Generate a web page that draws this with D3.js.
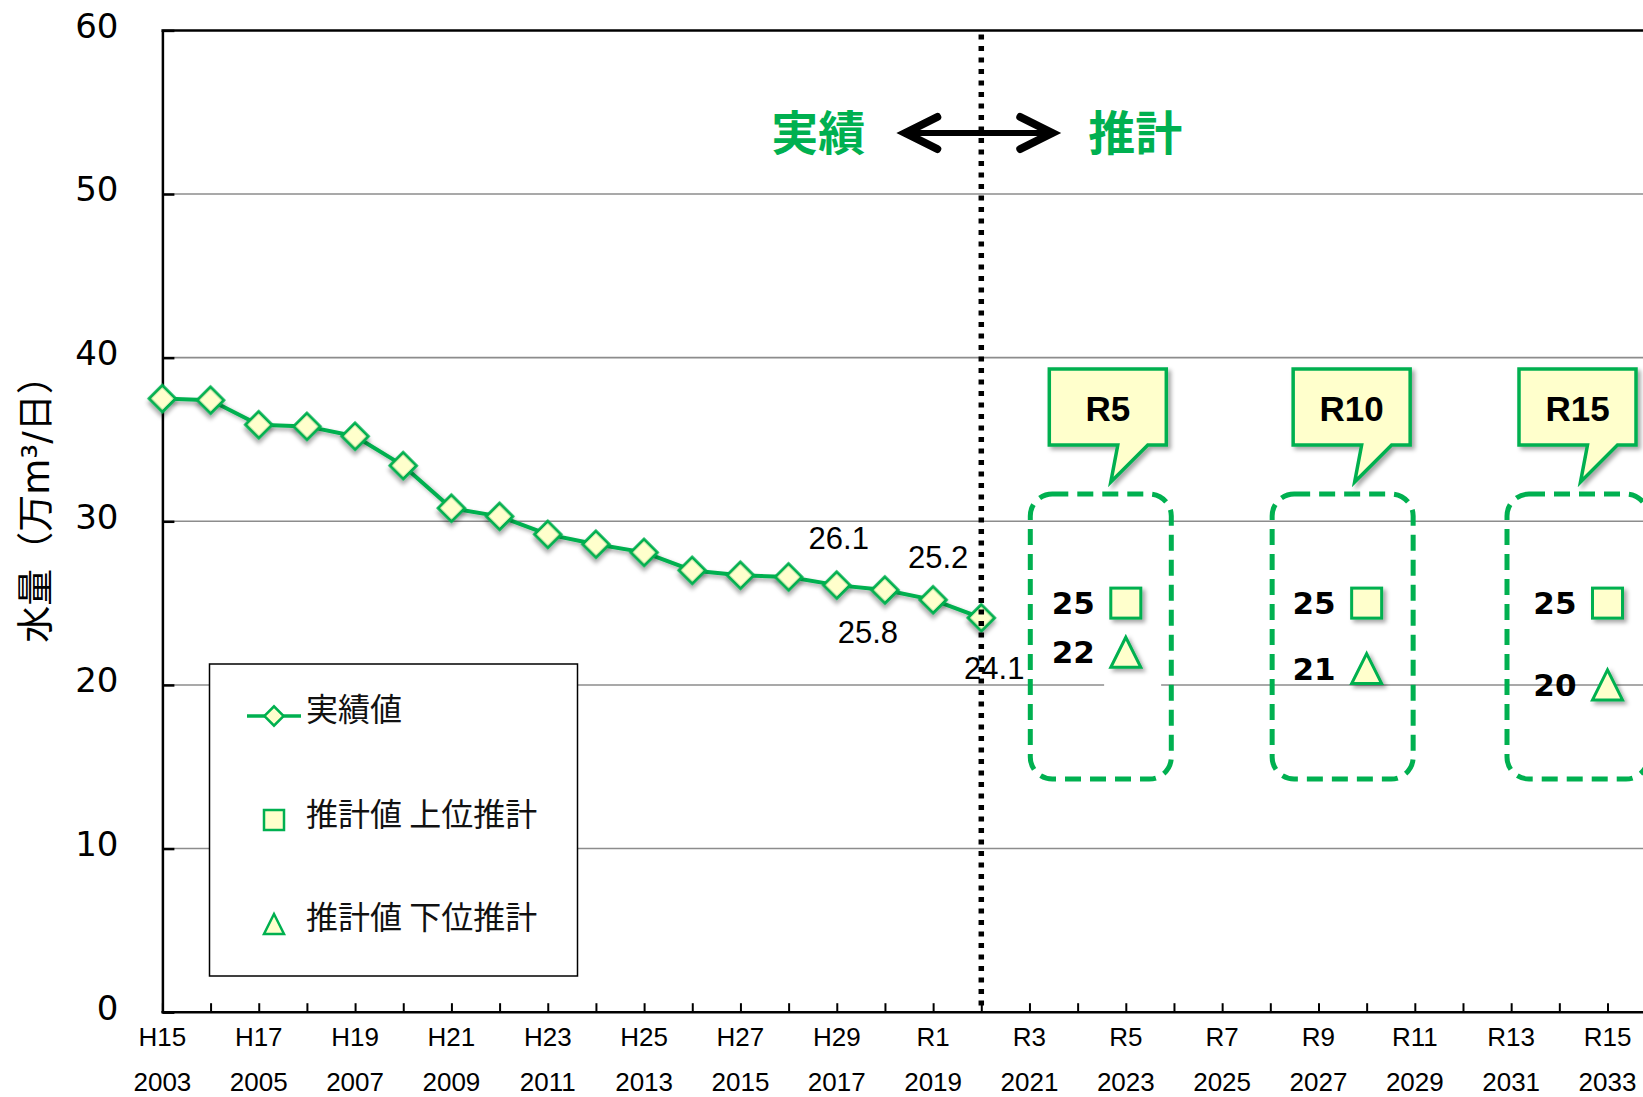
<!DOCTYPE html>
<html>
<head>
<meta charset="utf-8">
<script src="https://cdn.jsdelivr.net/npm/d3@7/dist/d3.min.js"></script>
<style>
  body { margin: 0; background: #fff; }
  svg { display: block; }
</style>
</head>
<body>
<div id="chart"></div>
<script>
// data
var years = [2003, 2004, 2005, 2006, 2007, 2008, 2009, 2010, 2011, 2012,
             2013, 2014, 2015, 2016, 2017, 2018, 2019, 2020];
var actual = [37.5, 37.4, 35.9, 35.8, 35.2, 33.4, 30.8, 30.3, 29.2, 28.6,
              28.1, 27.0, 26.7, 26.6, 26.1, 25.8, 25.2, 24.1];
var labelYears = [2017, 2018, 2019, 2020];

var forecastYears = [2023, 2028, 2033];
var forecastNames = ["R5", "R10", "R15"];
var upperValues = [25, 25, 25];
var lowerValues = [22, 21, 20];

var tickYears = [2003, 2005, 2007, 2009, 2011, 2013, 2015, 2017,
                 2019, 2021, 2023, 2025, 2027, 2029, 2031, 2033];
var eraLabels = ["H15", "H17", "H19", "H21", "H23", "H25", "H27", "H29",
                 "R1", "R3", "R5", "R7", "R9", "R11", "R13", "R15"];
var yTicks = [0, 10, 20, 30, 40, 50, 60];

var legendNames = ["実績値", "推計値 上位推計", "推計値 下位推計"];

var W = 1643, H = 1097;
var green = "#00B050", cream = "#FFFFCC";
var cjk = "'Noto Sans CJK JP', 'Noto Sans', sans-serif";

var svg = d3.select('#chart')
    .append('svg')
    .attr('width', W)
    .attr('height', H);

var defs = svg.append('defs');
var shadow = defs.append('filter')
    .attr('id', 'shadow')
    .attr('x', '-50%').attr('y', '-50%')
    .attr('width', '200%').attr('height', '200%');
shadow.append('feDropShadow')
    .attr('dx', 3).attr('dy', 3)
    .attr('stdDeviation', 2)
    .attr('flood-color', '#000')
    .attr('flood-opacity', 0.35);

var x = d3.scaleLinear()
    .domain([2003, 2033])
    .range([162.4, 1607.5]);

var y = d3.scaleLinear()
    .domain([0, 60])
    .range([1012.2, 30.4]);

// gridlines
svg.append('g')
    .selectAll('line')
    .data(yTicks.filter(function(d) { return d > 0 && d < 60; }))
    .enter()
    .append('line')
    .attr('x1', x(2003)).attr('x2', W)
    .attr('y1', function(d) { return y(d); })
    .attr('y2', function(d) { return y(d); })
    .attr('stroke', '#8c8c8c')
    .attr('stroke-width', 1.6);

// small white gap on the 20 line behind the R5 label box
svg.append('rect')
    .attr('x', x(2022.55)).attr('y', y(20) - 2)
    .attr('width', 57).attr('height', 4)
    .attr('fill', '#fff');

// top border
svg.append('line')
    .attr('x1', x(2003) - 1).attr('x2', W)
    .attr('y1', y(60)).attr('y2', y(60))
    .attr('stroke', '#000').attr('stroke-width', 2.5);

// y axis
var y_axis = d3.axisLeft(y)
    .tickValues(yTicks)
    .tickSizeInner(-12)
    .tickSizeOuter(0)
    .tickPadding(44);

var yg = svg.append('g')
    .attr('class', 'y axis')
    .attr('transform', 'translate(' + x(2003) + ',0)')
    .call(y_axis);
yg.select('.domain').attr('stroke', '#000').attr('stroke-width', 2.5);
yg.selectAll('.tick line').attr('stroke', '#000').attr('stroke-width', 2.5);
yg.selectAll('.tick text')
    .attr('dy', '0.2em')
    .style('font-family', "'DejaVu Sans', sans-serif")
    .style('font-size', '34px')
    .attr('fill', '#000');

// x axis
var x_axis = d3.axisBottom(x)
    .tickValues(d3.range(2003, 2034))
    .tickSizeInner(-9)
    .tickSizeOuter(0)
    .tickFormat('');

var xg = svg.append('g')
    .attr('class', 'x axis')
    .attr('transform', 'translate(0,' + y(0) + ')')
    .call(x_axis);
xg.select('.domain').remove();
xg.selectAll('.tick line').attr('stroke', '#000').attr('stroke-width', 2);
xg.append('line')
    .attr('x1', x(2003) - 1).attr('x2', W)
    .attr('stroke', '#000').attr('stroke-width', 2.5);

var xLab = svg.append('g')
    .style('font-family', "'Liberation Sans', Arial, sans-serif")
    .style('font-size', '26px')
    .attr('text-anchor', 'middle')
    .attr('fill', '#000');

xLab.selectAll('.era')
    .data(tickYears)
    .enter()
    .append('text')
    .attr('class', 'era')
    .attr('x', function(d) { return x(d); })
    .attr('y', 1037)
    .attr('dominant-baseline', 'central')
    .text(function(d, i) { return eraLabels[i]; });

xLab.selectAll('.yr')
    .data(tickYears)
    .enter()
    .append('text')
    .attr('class', 'yr')
    .attr('x', function(d) { return x(d); })
    .attr('y', 1082)
    .attr('dominant-baseline', 'central')
    .text(function(d) { return d; });

// y axis title
svg.append('text')
    .attr('transform', 'translate(36,500) rotate(-90)')
    .attr('text-anchor', 'middle')
    .attr('dominant-baseline', 'central')
    .style('font-family', "'DejaVu Sans', " + cjk)
    .style('font-size', '37px')
    .attr('fill', '#000')
    .text('水量（万m³/日）');

// actual line
var line = d3.line()
    .x(function(d, i) { return x(years[i]); })
    .y(function(d) { return y(d); });

svg.append('path')
    .datum(actual)
    .attr('d', line)
    .attr('fill', 'none')
    .attr('stroke', green)
    .attr('stroke-width', 4)
    .attr('stroke-linejoin', 'round')
    .attr('filter', 'url(#shadow)');

var diamond = d3.symbol().type(d3.symbolSquare).size(350);

svg.append('g')
    .selectAll('path')
    .data(actual)
    .enter()
    .append('path')
    .attr('d', diamond)
    .attr('transform', function(d, i) {
        return 'translate(' + x(years[i]) + ',' + y(d) + ') rotate(45)';
    })
    .attr('fill', cream)
    .attr('stroke', green)
    .attr('stroke-width', 3)
    .attr('filter', 'url(#shadow)');

// value labels on the last points
var labelShift = { 2017: [2, -47], 2018: [-17, 42], 2019: [5, -42], 2020: [13, 51] };

svg.append('g')
    .selectAll('text')
    .data(labelYears)
    .enter()
    .append('text')
    .attr('x', function(d) { return x(d) + labelShift[d][0]; })
    .attr('y', function(d) { return y(actual[years.indexOf(d)]) + labelShift[d][1]; })
    .attr('text-anchor', 'middle')
    .attr('dominant-baseline', 'central')
    .style('font-family', "'Liberation Sans', Arial, sans-serif")
    .style('font-size', '31px')
    .attr('fill', '#000')
    .text(function(d) { return actual[years.indexOf(d)].toFixed(1); });

// divider between actual and forecast
svg.append('line')
    .attr('x1', x(2020)).attr('x2', x(2020))
    .attr('y1', y(60) + 4).attr('y2', y(0))
    .attr('stroke', '#000')
    .attr('stroke-width', 5.5)
    .attr('stroke-dasharray', '5,6.5');

// heading and arrow
svg.append('text')
    .attr('x', x(2020) - 163).attr('y', 129)
    .attr('text-anchor', 'middle')
    .attr('dominant-baseline', 'central')
    .style('font-family', cjk)
    .style('font-weight', 700)
    .style('font-size', '47px')
    .attr('fill', green)
    .text('実績');

svg.append('text')
    .attr('x', x(2020) + 154).attr('y', 129)
    .attr('text-anchor', 'middle')
    .attr('dominant-baseline', 'central')
    .style('font-family', cjk)
    .style('font-weight', 700)
    .style('font-size', '47px')
    .attr('fill', green)
    .text('推計');

var ax0 = x(2020) - 76, ax1 = x(2020) + 71, ay = 133;
svg.append('line')
    .attr('x1', ax0 + 4).attr('x2', ax1 - 4)
    .attr('y1', ay).attr('y2', ay)
    .attr('stroke', '#000').attr('stroke-width', 6);
svg.append('path')
    .attr('d', 'M' + (ax0 + 32) + ',' + (ay - 16) + 'L' + ax0 + ',' + ay + 'L' + (ax0 + 32) + ',' + (ay + 16) +
               'M' + (ax1 - 32) + ',' + (ay - 16) + 'L' + ax1 + ',' + ay + 'L' + (ax1 - 32) + ',' + (ay + 16))
    .attr('fill', 'none')
    .attr('stroke', '#000')
    .attr('stroke-width', 8)
    .attr('stroke-linecap', 'round')
    .attr('stroke-linejoin', 'miter');

// forecast groups
var boxShift = [-25, -24, -30];
var bubbleShift = [-18, -15, -30];

var groups = svg.append('g')
    .selectAll('g')
    .data(forecastYears)
    .enter()
    .append('g');

groups.append('rect')
    .attr('x', function(d, i) { return x(d) + boxShift[i] - 70.5; })
    .attr('y', y(31.67))
    .attr('width', 141)
    .attr('height', y(14.25) - y(31.67))
    .attr('rx', 22).attr('ry', 22)
    .attr('fill', 'none')
    .attr('stroke', green)
    .attr('stroke-width', 5)
    .attr('stroke-dasharray', '16,9');

groups.append('path')
    .attr('d', function(d, i) {
        var c = x(d) + bubbleShift[i];
        var t = y(39.31), b = y(34.66), tip = y(32.4);
        return 'M' + (c - 58.5) + ',' + t +
               'L' + (c + 58.5) + ',' + t +
               'L' + (c + 58.5) + ',' + b +
               'L' + (c + 40) + ',' + b +
               'L' + (c + 3) + ',' + tip +
               'L' + (c + 10) + ',' + b +
               'L' + (c - 58.5) + ',' + b + 'Z';
    })
    .attr('fill', cream)
    .attr('stroke', green)
    .attr('stroke-width', 3.5)
    .attr('stroke-linejoin', 'miter')
    .attr('filter', 'url(#shadow)');

groups.append('text')
    .attr('x', function(d, i) { return x(d) + bubbleShift[i]; })
    .attr('y', (y(39.31) + y(34.66)) / 2 + 1)
    .attr('text-anchor', 'middle')
    .attr('dominant-baseline', 'central')
    .style('font-family', "'Liberation Sans', Arial, sans-serif")
    .style('font-weight', 700)
    .style('font-size', '35px')
    .attr('fill', '#000')
    .text(function(d, i) { return forecastNames[i]; });

// upper (square) and lower (triangle) forecast markers
groups.append('rect')
    .attr('x', function(d) { return x(d) - 15; })
    .attr('y', function(d, i) { return y(upperValues[i]) - 15; })
    .attr('width', 30).attr('height', 30)
    .attr('fill', cream)
    .attr('stroke', green)
    .attr('stroke-width', 3)
    .attr('filter', 'url(#shadow)');

groups.append('path')
    .attr('d', 'M0,-15L15,15L-15,15Z')
    .attr('transform', function(d, i) {
        return 'translate(' + x(d) + ',' + y(lowerValues[i]) + ')';
    })
    .attr('fill', cream)
    .attr('stroke', green)
    .attr('stroke-width', 3)
    .attr('stroke-linejoin', 'miter')
    .attr('filter', 'url(#shadow)');

groups.append('text')
    .attr('x', function(d) { return x(d) - 31; })
    .attr('y', function(d, i) { return y(upperValues[i]); })
    .attr('text-anchor', 'end')
    .attr('dominant-baseline', 'central')
    .style('font-family', "'DejaVu Sans', sans-serif")
    .style('font-weight', 700)
    .style('font-size', '31px')
    .attr('fill', '#000')
    .text(function(d, i) { return upperValues[i]; });

groups.append('text')
    .attr('x', function(d) { return x(d) - 31; })
    .attr('y', function(d, i) { return y(lowerValues[i]); })
    .attr('text-anchor', 'end')
    .attr('dominant-baseline', 'central')
    .style('font-family', "'DejaVu Sans', sans-serif")
    .style('font-weight', 700)
    .style('font-size', '31px')
    .attr('fill', '#000')
    .text(function(d, i) { return lowerValues[i]; });

// legend
var legend = svg.append('g');
legend.append('rect')
    .attr('x', 209.5).attr('y', 664)
    .attr('width', 368).attr('height', 312)
    .attr('fill', '#fff')
    .attr('stroke', '#000')
    .attr('stroke-width', 1.5);

var legY = [716, 820, 924];
var legTextY = [707, 812, 915];

legend.append('line')
    .attr('x1', 247).attr('x2', 301)
    .attr('y1', legY[0]).attr('y2', legY[0])
    .attr('stroke', green).attr('stroke-width', 3.5);
legend.append('path')
    .attr('d', d3.symbol().type(d3.symbolSquare).size(185))
    .attr('transform', 'translate(274,' + legY[0] + ') rotate(45)')
    .attr('fill', cream).attr('stroke', green).attr('stroke-width', 2.5);
legend.append('rect')
    .attr('x', 264).attr('y', legY[1] - 10)
    .attr('width', 20).attr('height', 20)
    .attr('fill', cream).attr('stroke', green).attr('stroke-width', 2.5);
legend.append('path')
    .attr('d', 'M0,-10L10,10L-10,10Z')
    .attr('transform', 'translate(274,' + legY[2] + ')')
    .attr('fill', cream).attr('stroke', green).attr('stroke-width', 2.5);

legend.selectAll('text')
    .data(legendNames)
    .enter()
    .append('text')
    .attr('x', 306)
    .attr('y', function(d, i) { return legTextY[i]; })
    .attr('dominant-baseline', 'central')
    .style('font-family', cjk)
    .style('font-size', '32px')
    .attr('fill', '#111')
    .text(function(d) { return d; });
</script>
</body>
</html>
